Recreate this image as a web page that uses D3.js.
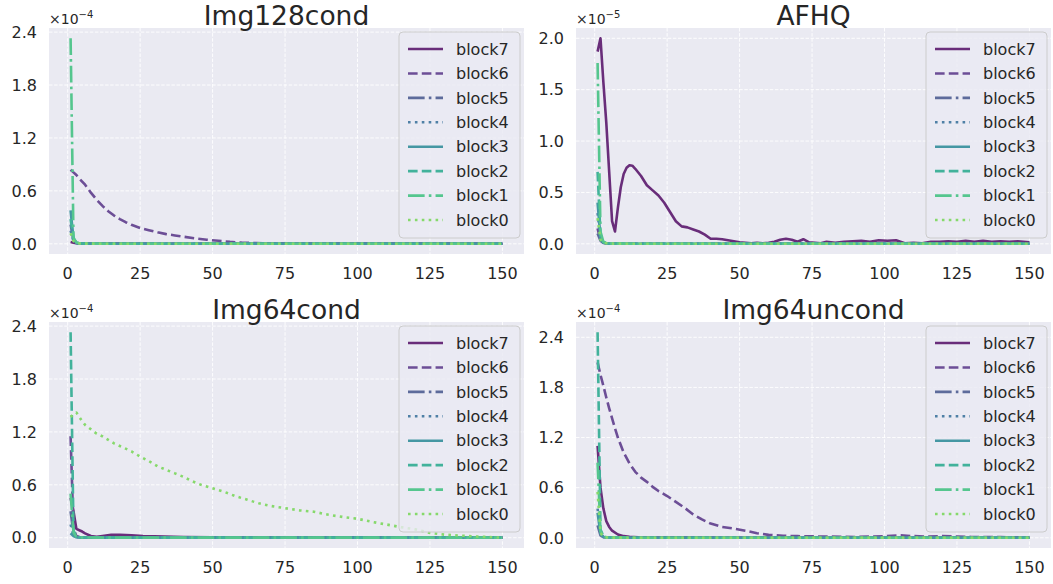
<!DOCTYPE html>
<html>
<head>
<meta charset="utf-8">
<script src="https://cdn.jsdelivr.net/npm/d3@7"></script>
<style>
  html, body { margin: 0; padding: 0; background: #ffffff; }
  svg { display: block; font-family: "DejaVu Sans", sans-serif; }
</style>
</head>
<body>
<svg id="chart" width="1053" height="584"></svg>
<script>
// ---------------- DATA ----------------
const blockNames = ["block7", "block6", "block5", "block4", "block3", "block2", "block1", "block0"];
const xTicks = [0, 25, 50, 75, 100, 125, 150];
const yTicks_img128 = [0, 0.6, 1.2, 1.8, 2.4];
const yTicks_afhq = [0, 0.5, 1.0, 1.5, 2.0];
const yTicks_img64c = [0, 0.6, 1.2, 1.8, 2.4];
const yTicks_img64u = [0, 0.6, 1.2, 1.8, 2.4];

// steps for the short-lived (spike) series
const spikeSteps = [1, 2, 3, 4, 5, 6, 8, 10, 15, 20, 30, 50, 75, 100, 125, 150];

// ---- Img128cond (x1e-4)
const img128_b7 = [0.02, 0.012, 0.006, 0.004, 0.003, 0.003, 0.002, 0.002, 0.002, 0.002, 0.001, 0.001, 0.001, 0.001, 0.001, 0.001];
const img128_b6_steps = [1, 2, 3, 4, 6, 8, 10, 12, 14, 16, 18, 20, 22, 25, 28, 31, 34, 37, 40, 44, 48, 52, 56, 60, 65, 70, 80, 90, 100, 110, 120, 130, 140, 150];
const img128_b6 = [0.84, 0.81, 0.78, 0.74, 0.67, 0.58, 0.50, 0.43, 0.37, 0.32, 0.28, 0.245, 0.215, 0.18, 0.155, 0.13, 0.11, 0.095, 0.08, 0.062, 0.047, 0.034, 0.022, 0.013, 0.008, 0.005, 0.004, 0.003, 0.003, 0.002, 0.002, 0.002, 0.002, 0.001];
const img128_b5 = [0.22, 0.04, 0.01, 0.005, 0.003, 0.002, 0.002, 0.001, 0.001, 0.001, 0.001, 0.001, 0.001, 0.001, 0.001, 0.001];
const img128_b4 = [0.15, 0.03, 0.008, 0.004, 0.003, 0.002, 0.002, 0.001, 0.001, 0.001, 0.001, 0.001, 0.001, 0.001, 0.001, 0.001];
const img128_b3 = [0.38, 0.06, 0.012, 0.005, 0.003, 0.002, 0.002, 0.001, 0.001, 0.001, 0.001, 0.001, 0.001, 0.001, 0.001, 0.001];
const img128_b2 = [0.28, 0.05, 0.01, 0.004, 0.003, 0.002, 0.002, 0.001, 0.001, 0.001, 0.001, 0.001, 0.001, 0.001, 0.001, 0.001];
const img128_b1 = [2.33, 0.07, 0.015, 0.006, 0.004, 0.003, 0.002, 0.002, 0.001, 0.001, 0.001, 0.001, 0.001, 0.001, 0.001, 0.001];
const img128_b0 = [0.12, 0.03, 0.008, 0.004, 0.003, 0.002, 0.002, 0.001, 0.001, 0.001, 0.001, 0.001, 0.001, 0.001, 0.001, 0.001];

// ---- AFHQ (x1e-5)
const afhq_b7_steps = [1, 2, 3, 4, 5, 6, 7, 8, 9, 10, 11, 12, 13, 14, 16, 18, 20, 22, 24, 26, 28, 30, 32, 34, 36, 38, 40, 42, 44, 46, 48, 50, 52, 54, 56, 58, 60, 62, 64, 66, 68, 70, 72, 74, 76, 78, 80, 83, 86, 89, 92, 95, 98, 101, 104, 107, 110, 113, 116, 119, 122, 125, 128, 131, 134, 137, 140, 143, 146, 150];
const afhq_b7 = [1.87, 2.00, 1.57, 1.18, 0.70, 0.22, 0.12, 0.35, 0.55, 0.68, 0.74, 0.765, 0.76, 0.73, 0.66, 0.57, 0.52, 0.47, 0.40, 0.31, 0.22, 0.17, 0.16, 0.14, 0.12, 0.09, 0.05, 0.05, 0.045, 0.035, 0.025, 0.015, 0.01, 0.005, 0.01, 0.005, 0.01, 0.02, 0.04, 0.05, 0.04, 0.02, 0.045, 0.015, 0.01, 0.005, 0.02, 0.01, 0.02, 0.025, 0.03, 0.02, 0.035, 0.03, 0.035, 0.005, 0.01, 0.005, 0.02, 0.02, 0.025, 0.02, 0.03, 0.02, 0.03, 0.02, 0.025, 0.02, 0.025, 0.015];
const afhq_b6 = [0.15, 0.03, 0.01, 0.005, 0.003, 0.002, 0.002, 0.001, 0.001, 0.001, 0.001, 0.001, 0.001, 0.001, 0.001, 0.001];
const afhq_b5 = [0.10, 0.03, 0.008, 0.004, 0.003, 0.002, 0.002, 0.001, 0.001, 0.001, 0.001, 0.001, 0.001, 0.001, 0.001, 0.001];
const afhq_b4 = [0.30, 0.05, 0.01, 0.005, 0.003, 0.002, 0.002, 0.001, 0.001, 0.001, 0.001, 0.001, 0.001, 0.001, 0.001, 0.001];
const afhq_b3 = [0.40, 0.06, 0.012, 0.005, 0.003, 0.002, 0.002, 0.001, 0.001, 0.001, 0.001, 0.001, 0.001, 0.001, 0.001, 0.001];
const afhq_b2 = [0.70, 0.08, 0.015, 0.006, 0.003, 0.002, 0.002, 0.001, 0.001, 0.001, 0.001, 0.001, 0.001, 0.001, 0.001, 0.001];
const afhq_b1 = [1.76, 0.12, 0.02, 0.006, 0.004, 0.003, 0.002, 0.002, 0.001, 0.001, 0.001, 0.001, 0.001, 0.001, 0.001, 0.001];
const afhq_b0 = [0.25, 0.04, 0.01, 0.005, 0.003, 0.002, 0.002, 0.001, 0.001, 0.001, 0.001, 0.001, 0.001, 0.001, 0.001, 0.001];

// ---- Img64cond (x1e-4)
const img64c_b7_steps = [1, 2, 3, 4, 5, 6, 8, 10, 12, 15, 18, 22, 26, 30, 40, 50, 70, 100, 150];
const img64c_b7 = [0.45, 0.30, 0.10, 0.085, 0.07, 0.05, 0.02, 0.012, 0.02, 0.032, 0.034, 0.028, 0.02, 0.015, 0.008, 0.005, 0.003, 0.002, 0.001];
const img64c_b6 = [1.15, 0.10, 0.02, 0.008, 0.004, 0.003, 0.002, 0.002, 0.001, 0.001, 0.001, 0.001, 0.001, 0.001, 0.001, 0.001];
const img64c_b5 = [0.30, 0.05, 0.01, 0.005, 0.003, 0.002, 0.002, 0.001, 0.001, 0.001, 0.001, 0.001, 0.001, 0.001, 0.001, 0.001];
const img64c_b4 = [0.15, 0.03, 0.008, 0.004, 0.003, 0.002, 0.002, 0.001, 0.001, 0.001, 0.001, 0.001, 0.001, 0.001, 0.001, 0.001];
const img64c_b3 = [0.05, 0.02, 0.006, 0.003, 0.002, 0.002, 0.001, 0.001, 0.001, 0.001, 0.001, 0.001, 0.001, 0.001, 0.001, 0.001];
const img64c_b2 = [2.33, 0.08, 0.02, 0.006, 0.004, 0.003, 0.002, 0.002, 0.001, 0.001, 0.001, 0.001, 0.001, 0.001, 0.001, 0.001];
const img64c_b1 = [0.50, 0.06, 0.012, 0.005, 0.003, 0.002, 0.002, 0.001, 0.001, 0.001, 0.001, 0.001, 0.001, 0.001, 0.001, 0.001];
const img64c_b0_steps = [1, 2, 3, 4, 5, 6, 8, 10, 12, 14, 16, 18, 20, 22, 25, 28, 31, 34, 37, 40, 43, 46, 50, 54, 58, 62, 66, 70, 75, 80, 85, 90, 95, 100, 105, 110, 115, 120, 125, 130, 135, 140, 145, 150];
const img64c_b0 = [1.37, 1.40, 1.42, 1.37, 1.32, 1.28, 1.23, 1.18, 1.15, 1.11, 1.07, 1.04, 1.01, 0.98, 0.92, 0.87, 0.81, 0.77, 0.73, 0.69, 0.64, 0.60, 0.56, 0.52, 0.47, 0.43, 0.39, 0.36, 0.335, 0.31, 0.295, 0.26, 0.235, 0.215, 0.18, 0.15, 0.12, 0.095, 0.055, 0.035, 0.025, 0.015, 0.008, 0.0];

// ---- Img64uncond (x1e-4)
const img64u_b7_steps = [1, 2, 3, 4, 5, 6, 8, 10, 12, 15, 20, 30, 50, 75, 100, 125, 150];
const img64u_b7 = [1.10, 0.60, 0.35, 0.20, 0.13, 0.085, 0.04, 0.02, 0.012, 0.006, 0.003, 0.002, 0.001, 0.001, 0.001, 0.001, 0.001];
const img64u_b6_steps = [1, 2, 3, 4, 5, 6, 7, 8, 10, 12, 14, 16, 18, 20, 22, 25, 28, 31, 34, 37, 40, 44, 48, 52, 56, 60, 65, 70, 80, 90, 100, 105, 110, 115, 120, 125, 130, 140, 150];
const img64u_b6 = [2.10, 1.95, 1.82, 1.68, 1.55, 1.43, 1.31, 1.20, 1.02, 0.89, 0.79, 0.72, 0.67, 0.61, 0.56, 0.50, 0.43, 0.36, 0.28, 0.22, 0.17, 0.13, 0.11, 0.085, 0.055, 0.035, 0.025, 0.02, 0.015, 0.01, 0.02, 0.03, 0.02, 0.015, 0.02, 0.015, 0.01, 0.008, 0.005];
const img64u_b5 = [0.15, 0.03, 0.008, 0.004, 0.003, 0.002, 0.002, 0.001, 0.001, 0.001, 0.001, 0.001, 0.001, 0.001, 0.001, 0.001];
const img64u_b4 = [0.35, 0.05, 0.01, 0.005, 0.003, 0.002, 0.002, 0.001, 0.001, 0.001, 0.001, 0.001, 0.001, 0.001, 0.001, 0.001];
const img64u_b3 = [0.30, 0.05, 0.01, 0.005, 0.003, 0.002, 0.002, 0.001, 0.001, 0.001, 0.001, 0.001, 0.001, 0.001, 0.001, 0.001];
const img64u_b2 = [2.46, 0.10, 0.02, 0.006, 0.004, 0.003, 0.002, 0.002, 0.001, 0.001, 0.001, 0.001, 0.001, 0.001, 0.001, 0.001];
const img64u_b1 = [0.90, 0.08, 0.015, 0.006, 0.004, 0.003, 0.002, 0.002, 0.001, 0.001, 0.001, 0.001, 0.001, 0.001, 0.001, 0.001];
const img64u_b0 = [0.55, 0.06, 0.012, 0.005, 0.003, 0.002, 0.002, 0.001, 0.001, 0.001, 0.001, 0.001, 0.001, 0.001, 0.001, 0.001];

// ---------------- STYLE ----------------
const colors = ["#692d7a", "#6c4e96", "#5d6b9b", "#4f80a6", "#4597a3", "#42b29b", "#55c68e", "#86d96b"];
const LW = 2.6;
const dashes = ["none", `${3.7*LW},${1.6*LW}`, `${6.4*LW},${1.6*LW},${1*LW},${1.6*LW}`, `${1*LW},${1.65*LW}`,
                "none", `${3.7*LW},${1.6*LW}`, `${6.4*LW},${1.6*LW},${1*LW},${1.6*LW}`, `${1*LW},${1.65*LW}`];

const panels = [
  { title: "Img128cond", left: 49, top: 28, exp: "\u22124", yTicks: yTicks_img128,
    series: [[spikeSteps, img128_b7], [img128_b6_steps, img128_b6], [spikeSteps, img128_b5], [spikeSteps, img128_b4],
             [spikeSteps, img128_b3], [spikeSteps, img128_b2], [spikeSteps, img128_b1], [spikeSteps, img128_b0]] },
  { title: "AFHQ", left: 576, top: 28, exp: "\u22125", yTicks: yTicks_afhq,
    series: [[afhq_b7_steps, afhq_b7], [spikeSteps, afhq_b6], [spikeSteps, afhq_b5], [spikeSteps, afhq_b4],
             [spikeSteps, afhq_b3], [spikeSteps, afhq_b2], [spikeSteps, afhq_b1], [spikeSteps, afhq_b0]] },
  { title: "Img64cond", left: 49, top: 322, exp: "\u22124", yTicks: yTicks_img64c,
    series: [[img64c_b7_steps, img64c_b7], [spikeSteps, img64c_b6], [spikeSteps, img64c_b5], [spikeSteps, img64c_b4],
             [spikeSteps, img64c_b3], [spikeSteps, img64c_b2], [spikeSteps, img64c_b1], [img64c_b0_steps, img64c_b0]] },
  { title: "Img64uncond", left: 576, top: 322, exp: "\u22124", yTicks: yTicks_img64u,
    series: [[img64u_b7_steps, img64u_b7], [img64u_b6_steps, img64u_b6], [spikeSteps, img64u_b5], [spikeSteps, img64u_b4],
             [spikeSteps, img64u_b3], [spikeSteps, img64u_b2], [spikeSteps, img64u_b1], [spikeSteps, img64u_b0]] }
];

const PW = 475, PH = 226;
const TEXT = "#262626";
const svg = d3.select("#chart");

panels.forEach((p, pi) => {
  const g = svg.append("g").attr("transform", `translate(${p.left},${p.top})`);
  const allX = p.series.flatMap(s => s[0]);
  const allY = p.series.flatMap(s => s[1]);
  const [xmin, xmax] = d3.extent(allX);
  const [ymin, ymax] = d3.extent(allY);
  const xr = xmax - xmin, yr = ymax - ymin;
  const x = d3.scaleLinear().domain([xmin - 0.05 * xr, xmax + 0.05 * xr]).range([0, PW]);
  const y = d3.scaleLinear().domain([ymin - 0.05 * yr, ymax + 0.05 * yr]).range([PH, 0]);

  g.append("rect").attr("width", PW).attr("height", PH).attr("fill", "#EAEAF2");

  // grid
  g.append("g").selectAll("line").data(xTicks).join("line")
    .attr("x1", d => x(d)).attr("x2", d => x(d)).attr("y1", 0).attr("y2", PH)
    .attr("stroke", "#ffffff").attr("stroke-width", 0.9).attr("stroke-dasharray", "3.5,1.6");
  g.append("g").selectAll("line").data(p.yTicks).join("line")
    .attr("x1", 0).attr("x2", PW).attr("y1", d => y(d)).attr("y2", d => y(d))
    .attr("stroke", "#ffffff").attr("stroke-width", 0.9).attr("stroke-dasharray", "3.5,1.6");

  // tick labels
  g.append("g").selectAll("text").data(xTicks).join("text")
    .attr("x", d => x(d)).attr("y", PH + 25).attr("text-anchor", "middle")
    .attr("font-size", 16).attr("fill", TEXT).text(d => d);
  g.append("g").selectAll("text").data(p.yTicks).join("text")
    .attr("x", -12).attr("y", d => y(d)).attr("dy", "0.36em").attr("text-anchor", "end")
    .attr("font-size", 16).attr("fill", TEXT).text(d => d3.format(".1f")(d));

  // offset text
  const ot = g.append("text").attr("x", 0).attr("y", -4).attr("font-size", 14).attr("fill", TEXT);
  ot.append("tspan").text("\u00d710");
  ot.append("tspan").attr("dy", -6).attr("font-size", 10).text(p.exp);

  // title
  g.append("text").attr("x", PW / 2).attr("y", -3).attr("text-anchor", "middle")
    .attr("font-size", 26.5).attr("fill", TEXT).text(p.title);

  // lines
  const clipId = "clip" + pi;
  g.append("clipPath").attr("id", clipId).append("rect").attr("width", PW).attr("height", PH);
  const lg = g.append("g").attr("clip-path", `url(#${clipId})`);
  const line = d3.line().x(d => x(d[0])).y(d => y(d[1]));
  p.series.forEach((s, i) => {
    const pts = s[0].map((st, k) => [st, s[1][k]]);
    lg.append("path").datum(pts).attr("d", line)
      .attr("fill", "none").attr("stroke", colors[i]).attr("stroke-width", LW)
      .attr("stroke-dasharray", dashes[i]).attr("stroke-linejoin", "round");
  });

  // legend
  const LWd = 121, LHt = 206;
  const leg = g.append("g").attr("transform", `translate(${PW - 4 - LWd},4)`);
  leg.append("rect").attr("width", LWd).attr("height", LHt).attr("rx", 4)
    .attr("fill", "#EAEAF2").attr("fill-opacity", 0.8).attr("stroke", "#cccccc").attr("stroke-width", 1);
  blockNames.forEach((name, i) => {
    const cy = 17 + i * 24.43;
    leg.append("line").attr("x1", 9).attr("x2", 44).attr("y1", cy).attr("y2", cy)
      .attr("stroke", colors[i]).attr("stroke-width", LW).attr("stroke-dasharray", dashes[i]);
    leg.append("text").attr("x", 57).attr("y", cy).attr("dy", "0.36em")
      .attr("font-size", 16).attr("fill", TEXT).text(name);
  });
});
</script>
</body>
</html>
